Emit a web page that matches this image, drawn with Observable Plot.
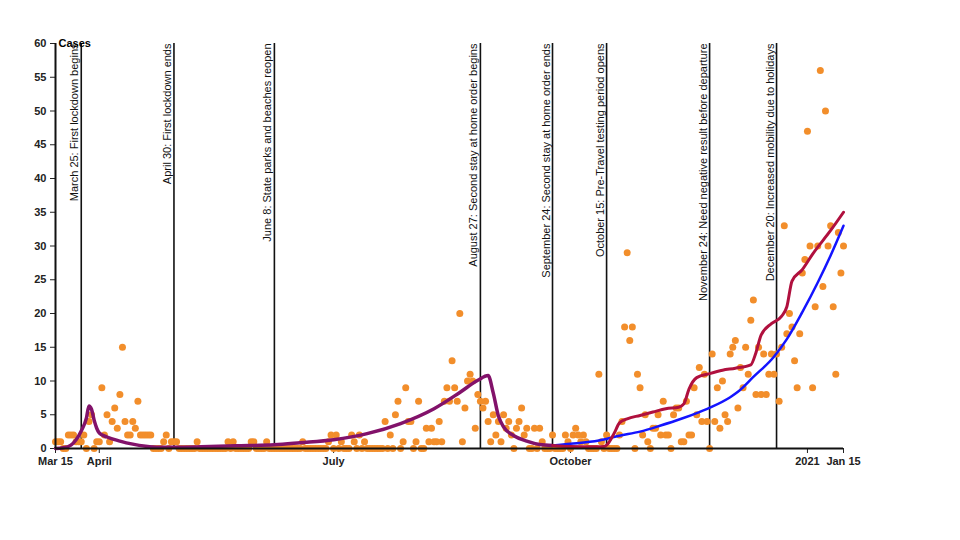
<!DOCTYPE html>
<html>
<head>
<meta charset="utf-8">
<script src="https://cdn.jsdelivr.net/npm/d3@7"></script>
<script src="https://cdn.jsdelivr.net/npm/@observablehq/plot@0.6"></script>
<style>
  body { margin: 0; background: #fff; }
  svg { font-family: "Liberation Sans", Arial, sans-serif; }
  svg [aria-label^="x-axis"] text, svg [aria-label^="y-axis"] text { font-weight: bold; }
</style>
</head>
<body>
<div id="chart"></div>
<script>
// Daily cases starting 2020-03-15
const startDate = "2020-03-15";
const dailyCases = [
  1,1,1,0,0,2,2,2,1,1,
  1,2,0,4,5,0,1,1,9,2,
  5,1,4,6,3,8,15,4,2,2,
  4,3,7,2,2,2,2,2,0,0,
  0,0,1,2,0,1,1,1,0,0,
  0,0,0,0,0,1,0,0,0,0,
  0,0,0,0,0,0,0,1,0,1,
  0,0,0,0,0,0,1,1,0,0,
  0,0,1,0,0,0,0,0,0,0,
  0,0,0,0,0,0,1,0,0,0,
  0,0,0,0,0,0,1,2,0,2,
  0,1,0,0,0,2,1,0,2,0,
  1,0,0,0,0,0,0,0,4,0,
  2,0,5,7,0,1,9,4,4,0,
  1,7,0,0,3,1,3,1,1,4,
  1,7,9,7,13,9,7,20,1,6,
  10,11,10,3,8,7,6,7,4,1,
  5,2,4,1,5,3,4,2,0,3,
  4,6,2,3,0,0,3,0,3,1,
  0,0,0,2,0,0,0,0,2,1,
  0,2,3,2,1,2,1,0,0,0,
  0,11,1,0,2,0,0,0,0,2,
  4,18,29,16,18,0,11,9,2,5,
  1,0,3,3,5,2,7,2,2,0,
  5,6,6,1,1,7,2,2,9,5,
  12,4,11,4,0,14,4,9,3,10,
  5,4,14,15,16,6,12,9,15,11,
  19,22,8,15,8,14,8,11,14,11,
  14,7,15,33,17,20,18,13,9,17,
  26,28,47,30,9,21,30,56,24,50,
  30,33,21,11,32,26,30
];

// Events
const eventDates = ["2020-03-25","2020-04-30","2020-06-08","2020-08-27","2020-09-24","2020-10-15","2020-11-24","2020-12-20"];
const eventLabels = [
  "March 25: First lockdown begins",
  "April 30: First lockdown ends",
  "June 8: State parks and beaches reopen",
  "August 27: Second stay at home order begins",
  "September 24: Second stay at home order ends",
  "October 15: Pre-Travel testing period opens",
  "November 24: Need negative result before departure",
  "December 20: Increased mobility due to holidays"
];

// Model curve shared by both series until Sep 24
const sharedDates = ["2020-03-15","2020-03-18","2020-03-21","2020-03-23","2020-03-25","2020-03-27","2020-03-28","2020-03-29","2020-03-30","2020-03-31","2020-04-01","2020-04-04","2020-04-09","2020-04-14","2020-04-19","2020-04-24","2020-05-04","2020-05-14","2020-05-24","2020-06-08","2020-06-18","2020-07-01","2020-07-14","2020-07-27","2020-08-09","2020-08-19","2020-08-26","2020-08-30","2020-09-01","2020-09-03","2020-09-05","2020-09-09","2020-09-14","2020-09-19","2020-09-24"];
const sharedValues = [0,0.1,0.5,1.3,2.6,4.5,6.3,5.8,4.2,3.0,2.3,1.7,1.1,0.65,0.35,0.2,0.2,0.3,0.4,0.55,0.85,1.3,2.2,3.7,5.9,8.3,10.1,10.8,8.2,4.8,3.2,1.9,1.1,0.6,0.45];

// Red series after Sep 24
const redDates = ["2020-09-24","2020-10-01","2020-10-11","2020-10-14","2020-10-15","2020-10-18","2020-10-20","2020-10-23","2020-10-28","2020-11-02","2020-11-07","2020-11-12","2020-11-14","2020-11-16","2020-11-19","2020-11-24","2020-11-29","2020-12-04","2020-12-10","2020-12-12","2020-12-14","2020-12-18","2020-12-22","2020-12-24","2020-12-26","2020-12-30","2021-01-03","2021-01-10","2021-01-15"];
const redValues = [0.45,0.3,0.25,0.3,0.5,2.3,3.8,4.4,4.9,5.4,5.9,6.1,6.6,8.8,10.5,11.1,11.6,11.9,12.4,14.2,16.8,18.5,19.6,21.0,24.8,26.5,28.8,32.3,35];

// Blue series after Sep 24
const blueDates = ["2020-09-24","2020-10-01","2020-10-12","2020-10-20","2020-10-28","2020-11-05","2020-11-13","2020-11-20","2020-11-25","2020-12-02","2020-12-05","2020-12-11","2020-12-19","2020-12-24","2020-12-30","2021-01-05","2021-01-10","2021-01-15"];
const blueValues = [0.45,0.7,1.2,1.9,2.5,3.4,4.4,5.4,6.2,7.6,8.4,10.6,13.6,16.2,20.2,24.6,28.6,33];

// Axis ticks
const xTickDates = ["2020-03-15","2020-04-01","2020-07-01","2020-10-01","2021-01-01","2021-01-15"];
const xTickLabels = ["Mar 15","April","July","October","2021","Jan 15"];
const yTicks = [0,5,10,15,20,25,30,35,40,45,50,55,60];

const parse = d3.utcParse("%Y-%m-%d");
const start = parse(startDate);
const cases = dailyCases.map((v, i) => ({date: d3.utcDay.offset(start, i), value: v}));
const events = eventDates.map((d, i) => ({date: parse(d), label: eventLabels[i]}));
const pairs = (ds, vs) => ds.map((d, i) => ({date: parse(d), value: vs[i]}));
const shared = pairs(sharedDates, sharedValues);
const red = pairs(redDates, redValues);
const blue = pairs(blueDates, blueValues);
const tickDates = xTickDates.map(parse);
const tickLabelOf = d => xTickLabels[tickDates.findIndex(t => +t === +d)];

const chart = Plot.plot({
  width: 960,
  height: 540,
  marginTop: 43,
  marginRight: 117,
  marginBottom: 92,
  marginLeft: 55,
  style: {fontFamily: "'Liberation Sans', Arial, sans-serif", fontSize: "11px", color: "#222", background: "white"},
  x: {type: "utc", domain: [tickDates[0], tickDates[tickDates.length - 1]], ticks: tickDates, tickFormat: tickLabelOf, label: null, tickSize: 5},
  y: {domain: [0, 60], ticks: yTicks, label: null, tickSize: 5},
  marks: [
    Plot.ruleX(events, {x: "date", y1: 0, y2: 60, stroke: "#111", strokeWidth: 1.6}),
    Plot.text(events, {x: "date", y: 60, text: "label", rotate: -90, textAnchor: "end", lineAnchor: "bottom", dx: -3, fontSize: 11, fill: "#111"}),
    Plot.dot(cases, {x: "date", y: "value", r: 3.5, fill: "#f28e2b", stroke: null}),
    Plot.line(shared, {x: "date", y: "value", stroke: "#82126a", strokeWidth: 3.5, curve: "monotone-x"}),
    Plot.line(blue, {x: "date", y: "value", stroke: "#1414ff", strokeWidth: 2.5, curve: "monotone-x"}),
    Plot.line(red, {x: "date", y: "value", stroke: "#b0103e", strokeWidth: 3, curve: "monotone-x"}),
    Plot.ruleY([0], {stroke: "#111", strokeWidth: 1.8}),
    Plot.ruleX([start], {y1: 0, y2: 60, stroke: "#111", strokeWidth: 2}),
    Plot.text(["Cases"], {x: start, y: 60, text: d => d, dx: 3, textAnchor: "start", fontWeight: "bold", fontSize: 11, fill: "#000"})
  ]
});
document.getElementById("chart").appendChild(chart);
</script>
</body>
</html>
